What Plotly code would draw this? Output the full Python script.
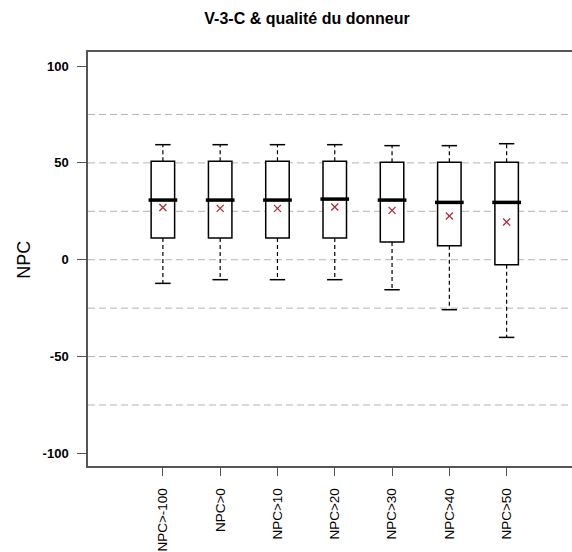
import plotly.graph_objects as go

# Donor-quality subgroups and their NPC distribution summaries
groups = ["NPC>-100", "NPC>0", "NPC>10", "NPC>20", "NPC>30", "NPC>40", "NPC>50"]
whisker_hi = [59.4, 59.4, 59.4, 59.4, 58.9, 58.9, 59.9]
q3 = [50.8, 50.8, 50.8, 50.8, 50.3, 50.3, 50.3]
median = [30.8, 30.8, 30.8, 31.3, 30.8, 29.6, 29.6]
mean = [27.0, 26.5, 26.5, 27.2, 25.5, 22.6, 19.5]
q1 = [11.2, 11.2, 11.2, 11.2, 9.1, 7.2, -2.6]
whisker_lo = [-12.2, -10.3, -10.3, -10.3, -15.5, -25.8, -40.1]

y_ticks = [-100, -50, 0, 50, 100]
grid_levels = [-75, -50, -25, 0, 25, 50, 75]

FONT = "Liberation Sans, Arial, Helvetica, sans-serif"
BOX_W = 0.41          # box width in category units
BOX_PX = 20.5         # median bar length in pixels (fits inside the box)

fig = go.Figure()

# dashed whiskers (Q3 -> upper, Q1 -> lower)
wx, wy = [], []
for g, a, b, c, d in zip(groups, q3, whisker_hi, q1, whisker_lo):
    wx += [g, g, None, g, g, None]
    wy += [a, b, None, c, d, None]
fig.add_trace(go.Scatter(
    x=wx, y=wy, mode="lines",
    line=dict(color="black", width=1.2, dash="4px,3px"),
    hoverinfo="skip", showlegend=False))

# whisker caps
fig.add_trace(go.Scatter(
    x=groups + groups, y=whisker_hi + whisker_lo, mode="markers",
    marker=dict(symbol="line-ew", size=11, line=dict(color="black", width=1.5)),
    hoverinfo="skip", showlegend=False))

# boxes from precomputed quartiles
fig.add_trace(go.Box(
    x=groups, q1=q1, median=median, q3=q3,
    lowerfence=q1, upperfence=q3,
    width=BOX_W, whiskerwidth=0,
    fillcolor="white", line=dict(color="black", width=1.5),
    hoverinfo="skip", showlegend=False))

# thick median bars
fig.add_trace(go.Scatter(
    x=groups, y=median, mode="markers",
    marker=dict(symbol="line-ew", size=BOX_PX, line=dict(color="black", width=3.5)),
    hoverinfo="skip", showlegend=False))

# means
fig.add_trace(go.Scatter(
    x=groups, y=mean, mode="markers",
    marker=dict(symbol="x-thin", size=7, line=dict(color="#b22a3a", width=1.3)),
    hoverinfo="skip", showlegend=False))

# dashed horizontal reference lines
for lvl in grid_levels:
    fig.add_shape(type="line", xref="paper", x0=0, x1=1, yref="y", y0=lvl, y1=lvl,
                  line=dict(color="#b4b4b4", width=1, dash="7px,4px"), layer="below")

fig.add_annotation(
    text="NPC", xref="paper", x=(24 - 88) / 484, yref="y", y=0,
    textangle=-90, showarrow=False, font=dict(family=FONT, size=18, color="black"),
    xanchor="center", yanchor="middle")

fig.update_layout(
    width=572, height=552,
    margin=dict(l=88, r=0, t=52, b=86),
    paper_bgcolor="white", plot_bgcolor="white",
    title=dict(text="<b>V-3-C & qualité du donneur</b>",
               xref="container", x=307 / 572, y=1 - 18 / 552,
               xanchor="center", yanchor="middle",
               font=dict(family=FONT, size=16, color="black")),
    xaxis=dict(
        type="category", categoryorder="array", categoryarray=groups,
        range=[-1.307, 7.141],
        showgrid=False, zeroline=False,
        showline=True, mirror=True, linecolor="#555555", linewidth=1.5,
        ticks="outside", ticklen=8, tickcolor="#555555", tickwidth=1.3,
        tickangle=-90, ticklabelstandoff=7,
        tickfont=dict(family=FONT, size=13.5, color="black")),
    yaxis=dict(
        range=[-106.5, 107.25],
        tickvals=y_ticks, ticktext=[str(v) for v in y_ticks],
        showgrid=False, zeroline=False,
        showline=True, linecolor="#555555", linewidth=1.5,
        ticks="outside", ticklen=9, tickcolor="#555555", tickwidth=1.3,
        ticklabelstandoff=6,
        tickfont=dict(family=FONT, size=13, color="black", weight="bold")),
)

fig.write_html("out.html")
